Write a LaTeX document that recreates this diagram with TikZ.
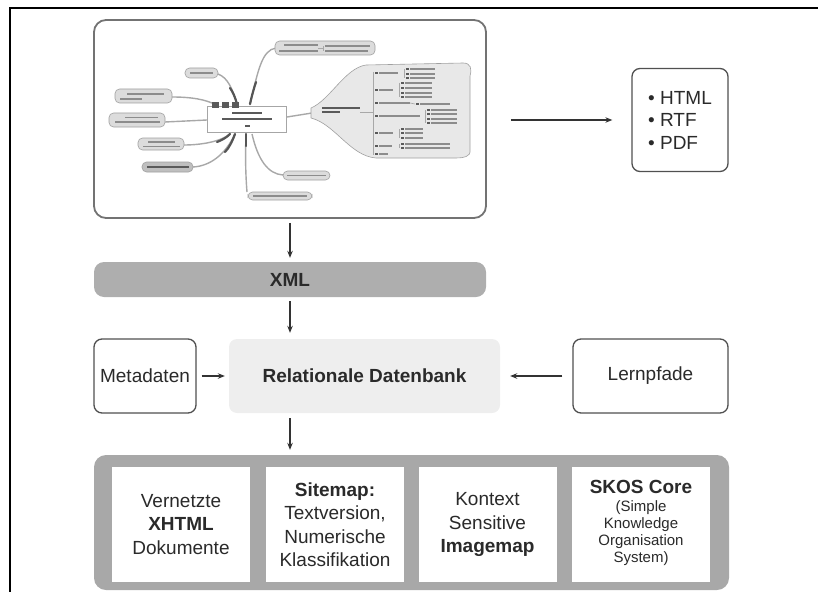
\documentclass[tikz,border=0pt]{standalone}
\usepackage{fontspec}
\setmainfont{Liberation Sans}
\usetikzlibrary{arrows.meta}
\definecolor{boxline}{HTML}{505050}
\definecolor{arrowc}{HTML}{333333}
\definecolor{xmlfill}{HTML}{AEAEAE}
\definecolor{dbfill}{HTML}{EEEEEE}
\definecolor{contfill}{HTML}{A8A8A8}
\definecolor{txt}{HTML}{2A2A2A}
\definecolor{mmline}{HTML}{A8A8A8}
\definecolor{mmdark}{HTML}{555555}
\definecolor{bubfill}{HTML}{DCDCDC}
\definecolor{bubline}{HTML}{A0A0A0}
\definecolor{barc}{HTML}{8C8C8C}
\definecolor{darkbar}{HTML}{5A5A5A}
\tikzset{
  wbox/.style={draw=boxline, line width=1.3pt, fill=white, rounded corners=8pt, inner sep=2pt,
    text=txt, font=\fontsize{19}{23.5}\selectfont, align=center},
  innerbox/.style={draw=none, fill=white, inner sep=2pt, minimum width=138pt, minimum height=115pt,
    text=txt, font=\fontsize{19}{23.5}\selectfont, align=center},
  arr/.style={draw=arrowc, line width=1.1pt, -{Stealth[length=7pt,width=5.5pt]}},
  mmframe/.style={draw=black!55, line width=1.8pt, fill=white, rounded corners=12pt},
  ray/.style={draw=mmline, line width=1.4pt},
  rayd/.style={draw=mmdark, line width=2.2pt, line cap=round},
  bubble/.style={draw=bubline, line width=0.6pt, fill=bubfill, rounded corners=4.5pt},
  tbar/.style={draw=barc, line width=1.3pt},
  dbar/.style={draw=darkbar, line width=1.6pt},
}
\begin{document}
\begin{tikzpicture}[x=1pt,y=-1pt]
\useasboundingbox (0,0) rectangle (818,591);
% outer black frame (top and left)
\draw[line width=2.5pt, black] (10,595) -- (10,8) -- (822,8);

% ---------- mind map screenshot ----------
\node[mmframe, minimum width=392pt, minimum height=198pt] (mm) at (290,119) {};
% rays (light outer part)
\draw[ray] (237,104) .. controls (232,88) and (228,78) .. (218,74);
\draw[ray] (250,105) .. controls (258,70) and (262,50) .. (276,48);
\draw[ray] (287,117) -- (312,113);
\draw[ray] (212,103) .. controls (200,98) and (185,97) .. (172,97);
\draw[ray] (207,120) -- (165,122);
\draw[ray] (230,134) .. controls (220,142) and (200,145) .. (184,145);
\draw[ray] (235,134) .. controls (225,155) and (210,166) .. (193,167);
\draw[ray] (246,134) .. controls (245,160) and (246,180) .. (247,192);
\draw[ray] (252,134) .. controls (258,160) and (268,174) .. (283,175);
% rays (dark inner part)
\draw[rayd] (237,104) .. controls (235,97) and (233,92) .. (230,88);
\draw[rayd] (250,104) .. controls (252,95) and (254,88) .. (256,82);
\draw[rayd] (230,134) .. controls (226,138) and (222,140) .. (217,142);
\draw[rayd] (235,134) .. controls (232,142) and (229,148) .. (225,152);
\draw[rayd] (246,134) -- (246,146);
% central node
\draw[draw=black!35, line width=0.8pt, fill=white] (207,106) rectangle (286,132);
\foreach \xa in {212,222,232}{\fill[darkbar] (\xa,102) rectangle ++(7,6);}
\draw[dbar, line width=1.3pt] (232,113) -- (262,113);
\draw[dbar, line width=1.3pt] (222,119) -- (272,119);
\draw[dbar, line width=1.3pt] (245,126) -- (250,126);
% left / bottom bubbles
\draw[bubble] (185,68) rectangle (218,78);   \draw[tbar] (190,73) -- (213,73);
\draw[bubble] (115,89) rectangle (172,103);  \draw[tbar] (127,94) -- (164,94); \draw[tbar] (120,99) -- (142,99);
\draw[bubble] (109,113) rectangle (165,127); \draw[tbar] (125,117.5) -- (158,117.5); \draw[tbar] (115,122) -- (160,122);
\draw[bubble] (138,138) rectangle (184,150); \draw[tbar] (148,142) -- (175,142); \draw[tbar] (143,146.5) -- (180,146.5);
\draw[bubble, fill=black!25] (142,162) rectangle (193,172); \draw[tbar, draw=darkbar] (147,167) -- (189,167);
\draw[bubble] (248,192) rectangle (312,200); \draw[tbar] (253,196) -- (307,196);
\draw[bubble] (283,171) rectangle (330,180); \draw[tbar] (287,175.5) -- (326,175.5);
% top bubble
\draw[bubble] (275,41) rectangle (375,55);
\draw[tbar] (284,45) -- (318,45); \draw[tbar] (279,51) -- (318,51);
\draw[ray, line width=0.6pt] (318,48) -- (323,48) (323,46) -- (323,51);
\draw[tbar] (325,46) -- (370,46); \draw[tbar] (325,51) -- (368,51);
% big cloud
\draw[draw=bubline, line width=0.6pt, fill=black!9]
  (311,108) .. controls (330,100) and (345,68) .. (366,65) -- (463,63)
  .. controls (471,63) and (472,69) .. (470,76) -- (470,150)
  .. controls (471,157) and (463,158) .. (456,158) -- (376,158)
  .. controls (350,156) and (335,124) .. (311,118) -- cycle;
\draw[dbar, line width=1.3pt] (322,108) -- (360,108);
\draw[dbar, line width=1.3pt] (322,112) -- (340,112);
\draw[ray, line width=0.7pt] (360,112) -- (373,112);
\draw[ray, line width=0.7pt] (373,72) -- (373,155);
\foreach \yy/\xe in {73/398,90/393,103/410,116/420,133/393,146/392,154/388}{
  \draw[tbar] (379,\yy) -- (\xe,\yy);
  \draw[darkbar, line width=1.3pt] (375,\yy) -- (378,\yy);
}
% sub-lists
\foreach \sx/\yl/\yh in {404/69/78, 399/83/97, 425/110/123, 399/129/138, 399/144/148}{
  \draw[ray, line width=0.6pt] (\sx,\yl) -- (\sx,\yh);
}
\foreach \yy in {69,74,78}{\draw[tbar] (410,\yy) -- (435,\yy); \draw[darkbar,line width=1.2pt] (406,\yy) -- (409,\yy);}
\foreach \yy in {83,88,93,97}{\draw[tbar] (405,\yy) -- (432,\yy); \draw[darkbar,line width=1.2pt] (401,\yy) -- (404,\yy);}
\draw[ray, line width=0.6pt] (410,103) -- (415,104);
\draw[tbar] (420,104) -- (450,104); \draw[darkbar,line width=1.2pt] (416,104) -- (419,104);
\foreach \yy in {110,114,119,123}{\draw[tbar] (431,\yy) -- (457,\yy); \draw[darkbar,line width=1.2pt] (427,\yy) -- (430,\yy);}
\foreach \yy in {129,133,138}{\draw[tbar] (405,\yy) -- (423,\yy); \draw[darkbar,line width=1.2pt] (401,\yy) -- (404,\yy);}
\foreach \yy in {144,148}{\draw[tbar] (405,\yy) -- (450,\yy); \draw[darkbar,line width=1.2pt] (401,\yy) -- (404,\yy);}

% ---------- output formats ----------
\node[wbox, minimum width=96pt, minimum height=103pt, align=left,
      font=\fontsize{19}{22.5}\selectfont] (out) at (680,120) {• HTML\\• RTF\\• PDF};
\draw[arr, shorten <=24pt, shorten >=19pt] (out.west -| mm.east) -- (out.west);

% ---------- XML ----------
\node[draw=none, fill=xmlfill, rounded corners=10pt, minimum width=392pt, minimum height=35pt,
      text=txt, font=\fontsize{19}{23}\selectfont\bfseries] (xml) at (290,279.5) {XML};
\draw[arr, shorten <=4pt, shorten >=4pt] (mm.south) -- (xml.north);

% ---------- database row ----------
\node[draw=none, fill=dbfill, rounded corners=8pt, minimum width=271pt, minimum height=74pt,
      text=txt, font=\fontsize{19}{23}\selectfont\bfseries] (db) at (364.5,376) {Relationale Datenbank};
\node[wbox, minimum width=102pt, minimum height=74pt] (meta) at (145,376) {Metadaten};
\node[wbox, minimum width=155pt, minimum height=74pt] (lern) at (650.5,376) {Lernpfade};
\draw[arr, shorten <=4pt, shorten >=6pt] (xml.south) -- (xml.south |- db.north);
\draw[arr, shorten <=5pt, shorten >=4pt] (meta.east) -- (db.west);
\draw[arr, shorten <=10pt, shorten >=10pt] (lern.west) -- (db.east);

% ---------- bottom container ----------
\node[draw=none, fill=contfill, rounded corners=12pt, minimum width=635pt, minimum height=135pt] (cont) at (411.5,522.5) {};
\draw[arr, shorten <=5pt, shorten >=5pt] (xml.south |- db.south) -- (xml.south |- cont.north);
\node[innerbox] (b1) at (181,524.5) {Vernetzte\\\textbf{XHTML}\\Dokumente};
\node[innerbox] (b2) at (335,524.5) {\textbf{Sitemap:}\\Textversion,\\Numerische\\Klassifikation};
\node[innerbox] (b3) at (487.5,524.5) {Kontext\\Sensitive\\\textbf{Imagemap}};
\node[innerbox] (b4) at (641,524.5) {};
\node[text=txt, font=\fontsize{19}{23}\selectfont\bfseries, inner sep=0pt] (skos) at (641,487) {SKOS Core};
\node[text=txt, font=\fontsize{15}{16.8}\selectfont, align=center, inner sep=0pt] (skosdesc) at (641,533)
  {(Simple\\Knowledge\\Organisation\\System)};
\end{tikzpicture}
\end{document}
